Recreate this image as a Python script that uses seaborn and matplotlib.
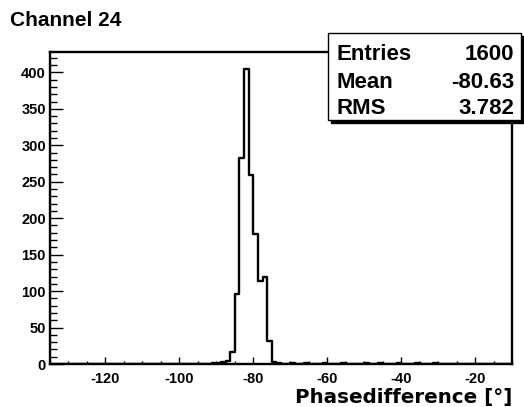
import numpy as np
import pandas as pd
import seaborn as sns
import matplotlib
matplotlib.use("Agg")
import matplotlib.pyplot as plt
from matplotlib.patches import Rectangle
from matplotlib.ticker import MultipleLocator

# ---- data ----
bin_low = -135.0
bin_high = -10.0
n_bins = 100
# non-empty bins: left edge -> counts
bin_left_edges = [-91.25, -90.0, -88.75, -87.5, -86.25, -85.0, -83.75, -82.5, -81.25,
                  -80.0, -78.75, -77.5, -76.25, -75.0, -73.75, -70.0, -66.25, -61.25,
                  -56.25, -50.0, -46.25, -41.25, -36.25, -31.25]
bin_counts = [1, 2, 3, 4, 17, 96, 283, 405, 259,
              178, 114, 119, 31, 3, 1, 1, 1, 1,
              1, 1, 1, 1, 1, 1]
stat_names = ["Entries", "Mean", "RMS"]
stat_values = ["1600", "-80.63", "3.782"]
title_text = "Channel 24"
xlabel_text = "Phasedifference [°]"

# ---- figure ----
sns.set_style("white")
plt.rcParams['font.family'] = ['Liberation Sans', 'DejaVu Sans']
plt.rcParams['text.color'] = 'black'
plt.rcParams['xtick.color'] = 'black'
plt.rcParams['ytick.color'] = 'black'
plt.rcParams['axes.labelcolor'] = 'black'
plt.rcParams['axes.unicode_minus'] = False

fig = plt.figure(figsize=(5.24, 4.07), dpi=100)
ax = fig.add_axes([50/524, 1-364/407, (512-50)/524, (364-52)/407])

width = (bin_high - bin_low) / n_bins
df = pd.DataFrame({"x": np.array(bin_left_edges) + width/2,
                   "w": np.array(bin_counts, dtype=float)})
sns.histplot(data=df, x="x", weights="w", bins=n_bins, binrange=(bin_low, bin_high),
             element="step", fill=False, color="black", linewidth=1.7, ax=ax)

ax.set_xlim(bin_low, bin_high)
ax.set_ylim(0, 428)
ax.set_ylabel("")
ax.set_xlabel("")

ax.xaxis.set_major_locator(MultipleLocator(20))
ax.xaxis.set_minor_locator(MultipleLocator(5))
ax.yaxis.set_major_locator(MultipleLocator(50))
ax.yaxis.set_minor_locator(MultipleLocator(10))
ax.tick_params(axis="x", which="major", direction="in", length=5, width=1,
               bottom=True, top=False, labelsize=10.5, pad=6)
ax.tick_params(axis="x", which="minor", direction="in", length=2.5, width=1,
               bottom=True, top=False)
ax.tick_params(axis="y", which="major", direction="in", length=9, width=1,
               left=True, right=False, labelsize=10.5, pad=3)
ax.tick_params(axis="y", which="minor", direction="in", length=5, width=1,
               left=True, right=False)
ax.set_xticks([-120, -100, -80, -60, -40, -20])
for lab in ax.get_xticklabels() + ax.get_yticklabels():
    lab.set_fontweight("bold")
for s in ax.spines.values():
    s.set_visible(True)
    s.set_linewidth(1.7)
    s.set_color("black")

fig.text(10/524, 1-20/407, title_text, fontsize=15, fontweight="bold",
         ha="left", va="center")
fig.text(512/524, 1-397/407, xlabel_text, fontsize=14.3, fontweight="bold",
         ha="right", va="center", family=["DejaVu Sans"])

# stats box with shadow
bx0, bx1 = 328/524, 521/524
by0, by1 = 1-120/407, 1-33/407
sh = 3
shadow = Rectangle((bx0 + sh/524, by0 - sh/407), bx1-bx0, by1-by0, transform=fig.transFigure,
                   facecolor="black", edgecolor="black", zorder=5)
box = Rectangle((bx0, by0), bx1-bx0, by1-by0, transform=fig.transFigure,
                facecolor="white", edgecolor="black", linewidth=1, zorder=6)
fig.patches.extend([shadow, box])
row_y = [54, 82, 108]
for name, val, yy in zip(stat_names, stat_values, row_y):
    fig.text(337/524, 1-yy/407, name, fontsize=16, fontweight="bold",
             ha="left", va="center", zorder=7)
    fig.text(514/524, 1-yy/407, val, fontsize=16, fontweight="bold",
             ha="right", va="center", zorder=7)

fig.savefig("out.png", dpi=100)
